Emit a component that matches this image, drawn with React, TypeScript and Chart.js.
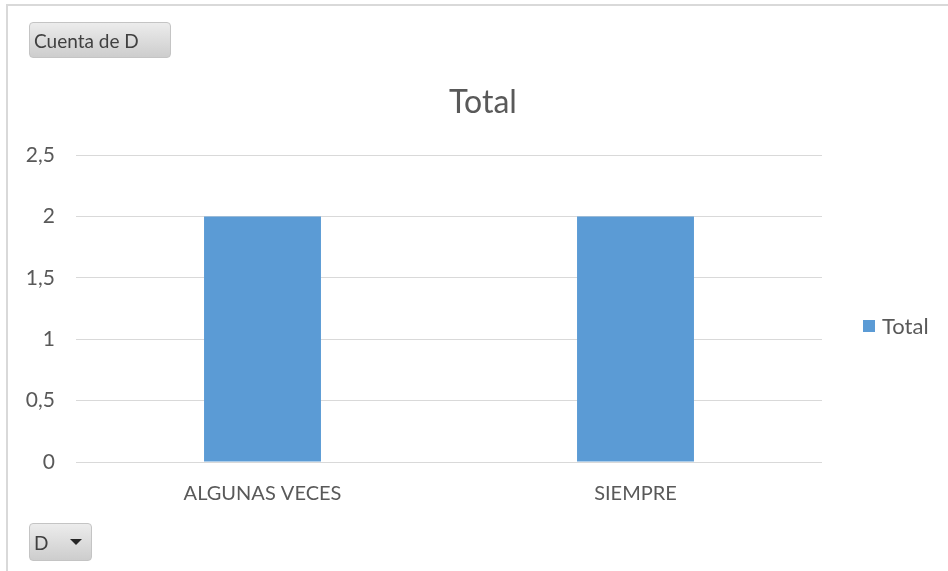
import React, { useEffect, useRef } from "react";
import { Chart, registerables } from "chart.js";

Chart.register(...registerables);

const CATEGORIES = ["ALGUNAS VECES", "SIEMPRE"];
const SERIES_NAME = "Total";
const SERIES_VALUES = [2, 2];
const Y_TICKS = [0, 0.5, 1, 1.5, 2, 2.5];
const CHART_TITLE = "Total";
const FIELD_BUTTON = "Cuenta de D";
const AXIS_BUTTON = "D";

const BAR_COLOR = "#5b9bd5";
const TEXT_COLOR = "#595959";
const GRID_COLOR = "#d9d9d9";
const FONT = "Lato, 'Open Sans', sans-serif";

const buttonStyle: React.CSSProperties = {
  position: "absolute",
  boxSizing: "border-box",
  border: "1px solid #c4c4c4",
  borderRadius: 4,
  background: "linear-gradient(#ececec, #cdcdcd)",
  color: "#404040",
  fontFamily: FONT,
  fontSize: 19,
  lineHeight: "normal",
  display: "flex",
  alignItems: "center",
  paddingLeft: 4,
};

export default function App() {
  const canvasRef = useRef<HTMLCanvasElement | null>(null);

  useEffect(() => {
    const canvas = canvasRef.current;
    if (!canvas) return;
    const chart = new Chart(canvas, {
      type: "bar",
      data: {
        labels: CATEGORIES,
        datasets: [
          {
            label: SERIES_NAME,
            data: SERIES_VALUES,
            backgroundColor: BAR_COLOR,
            borderWidth: 0,
            categoryPercentage: 1,
            barPercentage: 0.3135,
          },
        ],
      },
      options: {
        animation: false,
        responsive: false,
        maintainAspectRatio: false,
        layout: { padding: { left: 16, right: 126, top: 155, bottom: 0 } },
        plugins: {
          legend: { display: false },
          title: { display: false },
          tooltip: { enabled: false },
        },
        scales: {
          x: {
            grid: { display: false, drawTicks: false },
            border: { display: false },
            ticks: {
              color: TEXT_COLOR,
              font: { family: FONT, size: 20 },
              padding: 20,
              maxRotation: 0,
              autoSkip: false,
            },
            afterFit: (s: any) => {
              s.height = 109;
            },
          },
          y: {
            min: 0,
            max: Y_TICKS[Y_TICKS.length - 1],
            afterBuildTicks: (s: any) => {
              s.ticks = Y_TICKS.map((v) => ({ value: v }));
            },
            grid: { color: GRID_COLOR, lineWidth: 1, drawTicks: false },
            border: { display: false },
            ticks: {
              color: TEXT_COLOR,
              font: { family: FONT, size: 21 },
              padding: 21,
              callback: (v: any) => String(v).replace(".", ","),
            },
            afterFit: (s: any) => {
              s.width = 60;
            },
          },
        },
      },
    });
    return () => chart.destroy();
  }, []);

  return (
    <div
      style={{
        position: "fixed",
        left: 0,
        top: 0,
        width: 948,
        height: 571,
        background: "#ffffff",
        overflow: "hidden",
      }}
    >
      <div
        style={{
          position: "absolute",
          left: 6,
          top: 4,
          width: 1000,
          height: 700,
          borderTop: "2px solid #d9d9d9",
          borderLeft: "2px solid #d9d9d9",
        }}
      />
      <canvas
        ref={canvasRef}
        width={948}
        height={571}
        style={{ position: "absolute", left: 0, top: 0, width: 948, height: 571 }}
      />
      <div
        style={{
          position: "absolute",
          left: 0,
          top: 81,
          width: 966,
          textAlign: "center",
          fontFamily: FONT,
          fontSize: 32,
          color: TEXT_COLOR,
          lineHeight: "40px",
        }}
      >
        {CHART_TITLE}
      </div>
      <div
        style={{
          position: "absolute",
          left: 863,
          top: 313,
          display: "flex",
          alignItems: "center",
          fontFamily: FONT,
          fontSize: 22,
          color: TEXT_COLOR,
          lineHeight: "26px",
        }}
      >
        <span
          style={{
            display: "inline-block",
            width: 12,
            height: 12,
            background: BAR_COLOR,
            marginRight: 7,
          }}
        />
        {SERIES_NAME}
      </div>
      <div style={{ ...buttonStyle, left: 29, top: 22, width: 142, height: 36 }}>
        {FIELD_BUTTON}
      </div>
      <div style={{ ...buttonStyle, left: 29, top: 523, width: 63, height: 38 }}>
        <span>{AXIS_BUTTON}</span>
        <span
          style={{
            marginLeft: 22,
            width: 0,
            height: 0,
            borderLeft: "6px solid transparent",
            borderRight: "6px solid transparent",
            borderTop: "6px solid #262626",
          }}
        />
      </div>
    </div>
  );
}
